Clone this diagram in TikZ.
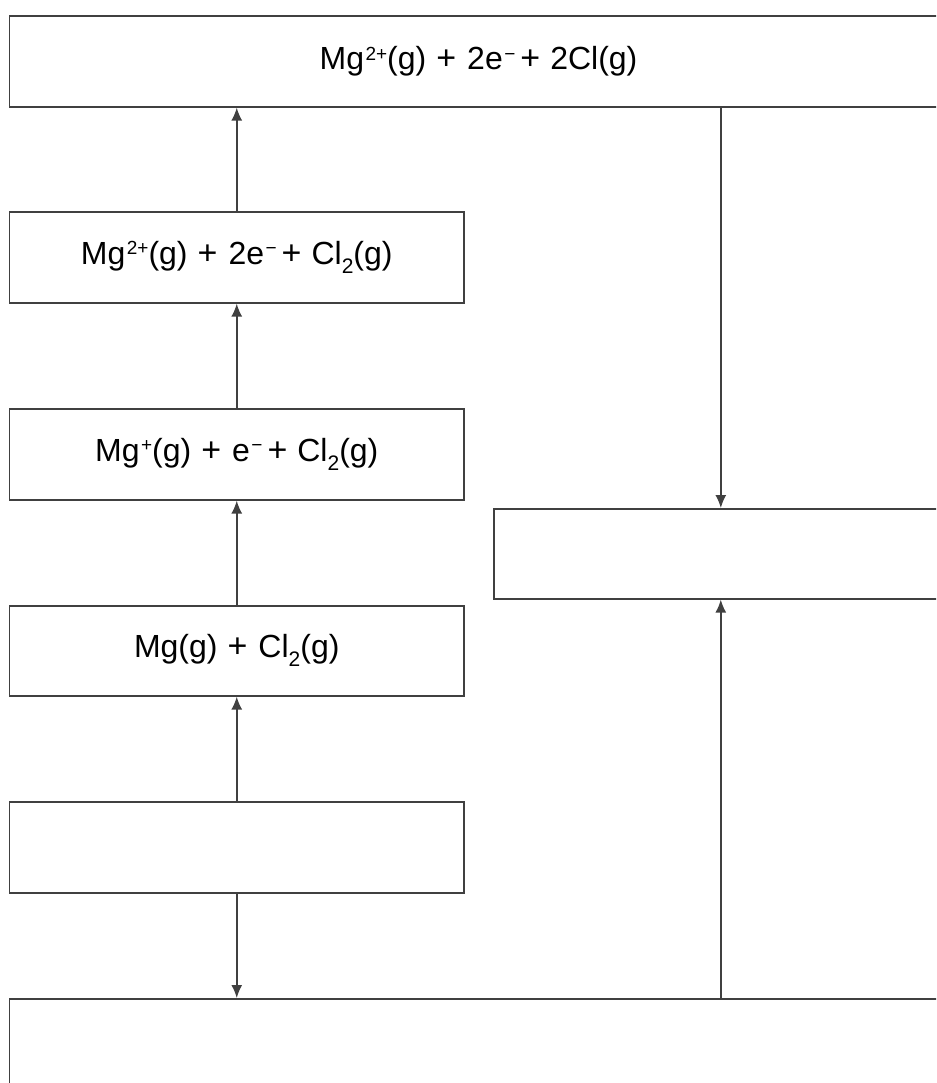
\documentclass[tikz,border=0pt]{standalone}
\usepackage{fontspec}
\setmainfont{Liberation Sans}
\usetikzlibrary{arrows.meta}
\newcommand{\sups}[1]{\hspace{1.5pt}\raisebox{9.5pt}{\fontsize{19}{19}\selectfont #1}}
\newcommand{\subs}[1]{\raisebox{-9pt}{\fontsize{21}{21}\selectfont #1}}
\newcommand{\bplus}{\hspace{10pt}{\fontsize{34}{36}\selectfont +}\hspace{11pt}}
\newcommand{\splus}{\hspace{5pt}{\fontsize{34}{36}\selectfont +}\hspace{10pt}}
\tikzset{
  box/.style={draw=black!75, line width=1.6pt, rectangle, inner sep=0pt, anchor=north west,
    font=\fontsize{32}{36}\selectfont, align=center},
  arr/.style={draw=black!75, line width=1.6pt, -{Latex[length=13pt,width=11pt]}}
}
\begin{document}
\begin{tikzpicture}[x=1pt,y=-1pt]
\useasboundingbox (0,0) rectangle (936,1083);
\clip (0,0) rectangle (936,1083);
\node[box, minimum width=938pt, minimum height=91pt] (top) at (8.7,15)
  {Mg\sups{2+}(g)\bplus2e\sups{−}\splus2Cl(g)};
\node[box, minimum width=454.5pt, minimum height=91pt] (b2) at (8.7,211)
  {Mg\sups{2+}(g)\bplus2e\sups{−}\splus Cl\subs{2}(g)};
\node[box, minimum width=454.5pt, minimum height=91pt] (b3) at (8.7,408)
  {Mg\sups{+}(g)\bplus e\sups{−}\splus Cl\subs{2}(g)};
\node[box, minimum width=454.5pt, minimum height=90pt] (b4) at (8.7,605)
  {Mg(g)\bplus Cl\subs{2}(g)};
\node[box, minimum width=454.5pt, minimum height=91pt] (b5) at (8.7,801) {};
\node[box, minimum width=454pt, minimum height=90pt] (r) at (493,508) {};
\node[box, minimum width=938pt, minimum height=100pt] (bot) at (8.7,998) {};
\draw[arr] (b2.north) -- (b2.north |- top.south);
\draw[arr] (b3.north) -- (b3.north |- b2.south);
\draw[arr] (b4.north) -- (b4.north |- b3.south);
\draw[arr] (b5.north) -- (b5.north |- b4.south);
\draw[arr] (b5.south) -- (b5.south |- bot.north);
\draw[arr] (r.north |- top.south) -- (r.north);
\draw[arr] (r.south |- bot.north) -- (r.south);
\end{tikzpicture}
\end{document}
